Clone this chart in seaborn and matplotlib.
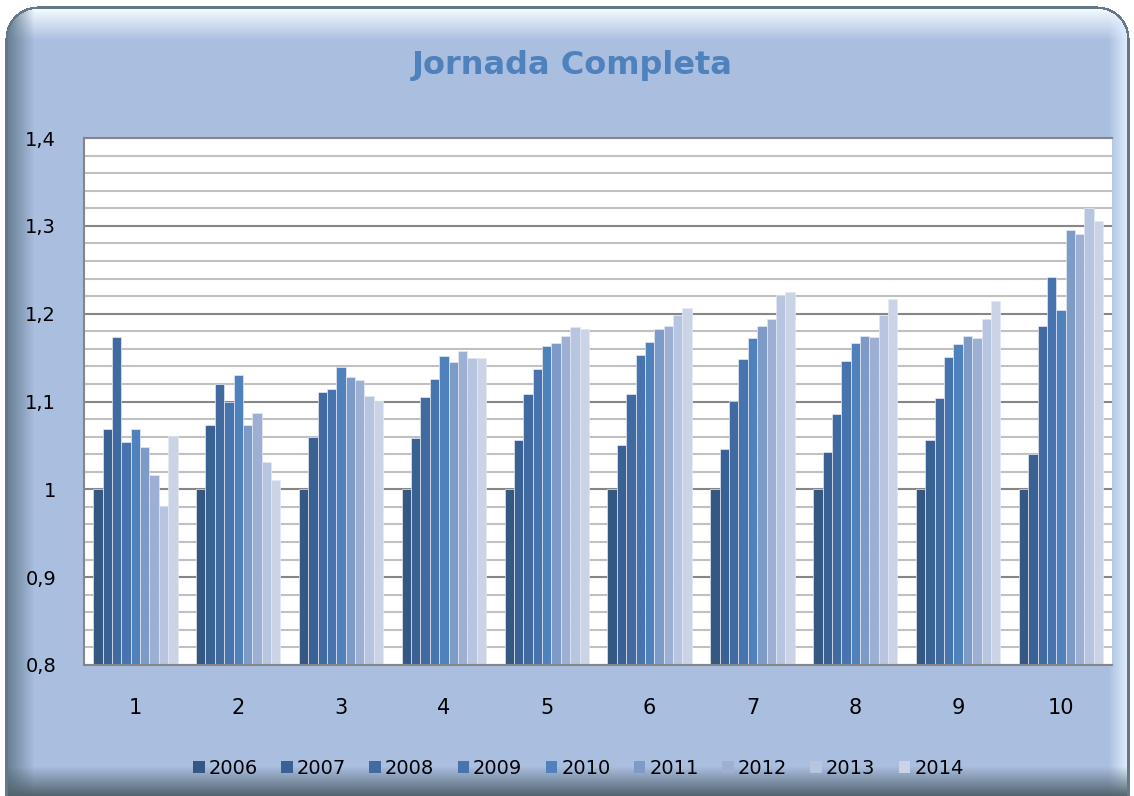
import numpy as np
import pandas as pd
import matplotlib
matplotlib.use('Agg')
import matplotlib.pyplot as plt
import matplotlib.ticker as mticker
import seaborn as sns

# Data
grupos = ['1', '2', '3', '4', '5', '6', '7', '8', '9', '10']
anios = ['2006', '2007', '2008', '2009', '2010', '2011', '2012', '2013', '2014']

v2006 = [1.000, 1.000, 1.000, 1.000, 1.000, 1.000, 1.000, 1.000, 1.000, 1.000]
v2007 = [1.069, 1.073, 1.060, 1.058, 1.056, 1.050, 1.046, 1.043, 1.056, 1.040]
v2008 = [1.173, 1.120, 1.111, 1.105, 1.109, 1.109, 1.101, 1.086, 1.104, 1.186]
v2009 = [1.054, 1.100, 1.114, 1.126, 1.137, 1.153, 1.148, 1.146, 1.151, 1.242]
v2010 = [1.069, 1.130, 1.139, 1.152, 1.163, 1.168, 1.172, 1.167, 1.166, 1.204]
v2011 = [1.048, 1.073, 1.128, 1.145, 1.167, 1.183, 1.186, 1.175, 1.175, 1.295]
v2012 = [1.016, 1.087, 1.125, 1.157, 1.175, 1.186, 1.194, 1.173, 1.172, 1.291]
v2013 = [0.981, 1.031, 1.106, 1.149, 1.185, 1.198, 1.221, 1.198, 1.194, 1.320]
v2014 = [1.061, 1.011, 1.101, 1.150, 1.183, 1.206, 1.225, 1.217, 1.214, 1.306]

series = [v2006, v2007, v2008, v2009, v2010, v2011, v2012, v2013, v2014]

colores = ['#345882', '#3a6194', '#416ba0', '#4774ae', '#4f81bd',
           '#7e9bc8', '#9db0d3', '#b8c5e0', '#cad4e6']

# long format for seaborn
rows = []
for anio, valores in zip(anios, series):
    for g, v in zip(grupos, valores):
        rows.append({'grupo': g, 'anio': anio, 'valor': v})
df = pd.DataFrame(rows)

# Background panel with bevel-like shading
W, H = 1134, 796
yy, xx = np.mgrid[0:H, 0:W].astype(float)
base = np.array([170, 190, 224]) / 255.0
img = np.ones((H, W, 3)) * base

def blend(img, weight, color):
    color = np.array(color) / 255.0
    w = np.clip(weight, 0, 1)[..., None]
    return img * (1 - w) + color * w

img = blend(img, (40 - yy) / 30.0, (240, 248, 255))          # top highlight
img = blend(img, (34 - xx) / 26.0, (105, 130, 150))          # left dark bevel
img = blend(img, (xx - 1108) / 20.0, (225, 240, 255))        # right highlight
img = blend(img, (yy - 766) / 30.0, (80, 98, 108))           # bottom shadow

# rounded rectangle mask
x0, x1, y0, y1, r = 5, 1129, 6, 830, 32
cx = np.clip(xx, x0 + r, x1 - r)
cy = np.clip(yy, y0 + r, y1 - r)
dist = np.sqrt((xx - cx) ** 2 + (yy - cy) ** 2)
inside = dist <= r
border = (dist > r - 2.5) & inside
img[border] = np.array([100, 120, 135]) / 255.0
img[~inside] = 1.0

fig = plt.figure(figsize=(11.34, 7.96), dpi=100)
fig.patch.set_facecolor('white')
bg = fig.add_axes([0, 0, 1, 1], zorder=-1)
bg.imshow(img, aspect='auto', interpolation='bilinear')
bg.axis('off')

ax = fig.add_axes([0.074, 0.1646, 0.907, 0.662])
ax.set_facecolor('white')

sns.barplot(data=df, x='grupo', y='valor', hue='anio', order=grupos,
            hue_order=anios, palette=colores, saturation=1, width=0.82,
            edgecolor='#e3e9f3', linewidth=0.5, ax=ax)

ax.set_ylim(0.8, 1.4)
ax.set_yticks(np.round(np.arange(0.8, 1.41, 0.1), 1))
ax.yaxis.set_major_formatter(mticker.FuncFormatter(lambda v, p: f"{v:g}".replace('.', ',')))
ax.yaxis.set_minor_locator(mticker.MultipleLocator(0.02))
ax.grid(axis='y', which='minor', color='#c0c0c0', linewidth=1.5)
ax.grid(axis='y', which='major', color='#868686', linewidth=1.5)
ax.grid(axis='x', visible=False)
ax.set_axisbelow(True)
ax.tick_params(which='both', length=0)
ax.tick_params(axis='x', pad=24, labelsize=15, colors='black')
ax.tick_params(axis='y', pad=20, labelsize=14, colors='black')
ax.set_xlabel('')
ax.set_ylabel('')
for side in ['left', 'bottom', 'top']:
    ax.spines[side].set_color('#868686')
    ax.spines[side].set_linewidth(1.5)
ax.spines['right'].set_visible(False)

handles, labels = ax.get_legend_handles_labels()
ax.get_legend().remove()
leg = fig.legend(handles, labels, loc='center', bbox_to_anchor=(0.51, 0.035),
                 ncol=9, frameon=False, fontsize=14, handlelength=0.6,
                 handleheight=0.6, handletextpad=0.2, columnspacing=1.2)
for h in leg.legend_handles:
    h.set_linewidth(0)

fig.text(0.505, 0.918, 'Jornada Completa', ha='center', va='center',
         fontsize=23, fontweight='bold', color='#4f81bd')

plt.savefig('out.png', dpi=100)
plt.close()
